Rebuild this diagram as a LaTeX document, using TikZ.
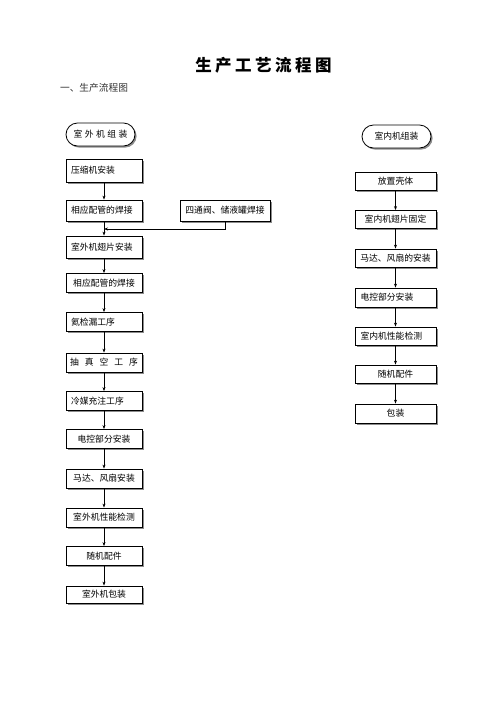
\documentclass[tikz,border=0pt]{standalone}
\usepackage{fontspec}
\setmainfont{Noto Sans CJK SC}
\usetikzlibrary{arrows.meta,shadows,shapes.misc}
\begin{document}
\begin{tikzpicture}[x=1pt,y=-1pt,
  font=\fontsize{8.8}{9.5}\selectfont,
  sh/.style={drop shadow={shadow xshift=1.6pt,shadow yshift=-1.6pt,fill=black!45,opacity=1}},
  box/.style={draw=black,line width=0.8pt,fill=white,sh,minimum width=76pt,inner sep=0pt,text width=66pt},
  lbox/.style={box,align=left},
  cbox/.style={box,align=center},
  rlbox/.style={lbox,minimum width=81pt,text width=70pt},
  rcbox/.style={cbox,minimum width=81pt,text width=72pt},
  oval/.style={draw=black,line width=0.8pt,fill=white,sh,rounded rectangle,minimum width=69pt,minimum height=23pt,inner sep=0pt},
  arr/.style={-{Stealth[length=4pt,width=3pt]},line width=0.7pt}]
\useasboundingbox (0,0) rectangle (496,702);
\fill[white] (0,0) rectangle (496,702);
% titles
\node (title) at (263.5,65.5) {\fontsize{16.5}{18}\selectfont\bfseries 生\hspace{3.5pt}产\hspace{3.5pt}工\hspace{3.5pt}艺\hspace{3.5pt}流\hspace{3.5pt}程\hspace{3.5pt}图};
\node[text=black!80] (sub) at (94,87.5) {\fontsize{9.7}{10}\selectfont 一、生产流程图};
% left column
\node[oval] (lov) at (100.5,134.5) {室\hspace{2.5pt}外\hspace{2.5pt}机\hspace{2.5pt}组\hspace{2.5pt}装};
\node[lbox,minimum height=23pt] (l1) at (104,170.5) {压缩机安装};
\node[lbox,minimum height=21pt] (l2) at (104,210.5) {相应配管的焊接};
\node[cbox,minimum width=90pt,text width=86pt,minimum height=21pt] (fw) at (225,210.5) {四通阀、储液罐焊接};
\node[lbox,minimum height=22pt] (l3) at (104,247) {室外机翅片安装};
\node[cbox,minimum height=19pt] (l4) at (104,283) {相应配管的焊接};
\node[lbox,minimum height=19pt] (l5) at (104,322) {氦检漏工序};
\node[cbox,minimum height=19pt,text width=72pt] (l6) at (104,362.5) {抽\hspace{6pt}真\hspace{6pt}空\hspace{6pt}工\hspace{6pt}序};
\node[lbox,minimum height=19pt] (l7) at (104,401) {冷媒充注工序};
\node[cbox,minimum height=19pt] (l8) at (104,439) {电控部分安装};
\node[cbox,minimum height=19pt] (l9) at (104,478.5) {马达、风扇安装};
\node[cbox,minimum height=19pt] (l10) at (104,517.5) {室外机性能检测};
\node[cbox,minimum height=19pt] (l11) at (104,556) {随机配件};
\node[cbox,minimum height=17pt] (l12) at (104,594.5) {室外机包装};
\coordinate (j) at (104,229);
\draw[arr] (l1) -- (l2);
\draw[arr] (l2) -- (l3);
\draw[arr] (fw.south) |- (j);
\draw[arr] (l3) -- (l4);
\draw[arr] (l4) -- (l5);
\draw[arr] (l5) -- (l6);
\draw[arr] (l6) -- (l7);
\draw[arr] (l7) -- (l8);
\draw[arr] (l8) -- (l9);
\draw[arr] (l9) -- (l10);
\draw[arr] (l10) -- (l11);
\draw[arr] (l11) -- (l12);
% right column
\node[oval] (rov) at (396.5,136.5) {室内机组装};
\node[rcbox,minimum height=18pt] (r1) at (395.5,181) {放置壳体};
\node[rcbox,minimum height=18pt] (r2) at (395.5,219.5) {室内机翅片固定};
\node[rcbox,minimum height=18pt] (r3) at (395.5,258) {马达、风扇的安装};
\node[rlbox,minimum height=19pt] (r4) at (395.5,297.5) {电控部分安装};
\node[rlbox,minimum height=18pt] (r5) at (395.5,336) {室内机性能检测};
\node[rcbox,minimum height=18pt] (r6) at (395.5,374) {随机配件};
\node[rcbox,minimum height=19pt] (r7) at (395.5,413.5) {包装};
\draw[arr] (r1) -- (r2);
\draw[arr] (r2) -- (r3);
\draw[arr] (r3) -- (r4);
\draw[arr] (r4) -- (r5);
\draw[arr] (r5) -- (r6);
\draw[arr] (r6) -- (r7);
\end{tikzpicture}
\end{document}
